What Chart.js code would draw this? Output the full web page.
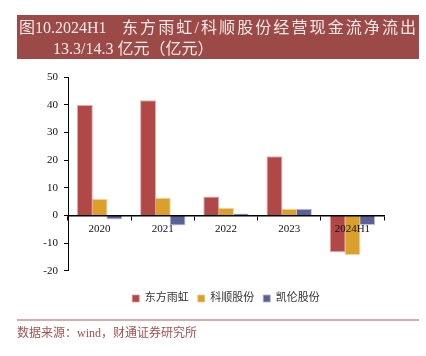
<!DOCTYPE html>
<html><head><meta charset="utf-8">
<script src="https://cdn.jsdelivr.net/npm/chart.js@4"></script>
<style>
html,body{margin:0;padding:0;background:#fff;width:426px;height:356px;overflow:hidden;}
#wrap{position:absolute;left:0;top:0;width:426px;height:356px;}
#title{position:absolute;left:17px;top:15px;width:402px;height:44px;background:#9C4A47;color:#F6E9E7;font-family:"Liberation Serif","Noto Sans CJK SC",serif;font-size:16px;}
#t1a{position:absolute;left:2px;top:2px;line-height:22px;white-space:nowrap;}
#t1b{position:absolute;left:105px;top:2px;line-height:22px;white-space:nowrap;letter-spacing:2.1px;}
#t2{position:absolute;left:36px;top:23px;line-height:22px;white-space:nowrap;}
#rule{position:absolute;left:17px;top:319px;width:402px;height:2px;background:#D9ABA9;}
#src{position:absolute;left:17px;top:325px;font-family:"Liberation Serif","Noto Sans CJK SC",serif;font-size:12px;color:#A5524F;white-space:nowrap;line-height:16px;}
canvas{position:absolute;left:0;top:0;}
</style></head>
<body>
<div id="wrap"><canvas id="c" width="426" height="356"></canvas></div>
<div id="title"><span id="t1a">图10.2024H1</span><span id="t1b">东方雨虹/科顺股份经营现金流净流出</span><span id="t2">13.3/14.3 亿元（亿元）</span></div>
<div id="rule"></div>
<div id="src">数据来源：wind，财通证券研究所</div>
<script>
const categories = ["2020", "2021", "2022", "2023", "2024H1"];
const seriesNames = ["东方雨虹", "科顺股份", "凯伦股份"];
const dongfang = [39.9, 41.6, 6.8, 21.4, -13.3];
const keshun = [5.9, 6.4, 2.8, 2.4, -14.3];
const kailun = [-1.5, -3.6, 0.7, 2.4, -3.5];
const yTicks = [-20, -10, 0, 10, 20, 30, 40, 50];

const font = {family: '"Liberation Serif","Noto Sans CJK SC",serif', size: 11};
const mk = (label, data, color, border) => ({
  label, data, backgroundColor: color, borderColor: border, borderWidth: 1,
  categoryPercentage: 0.7, barPercentage: 1.08
});
new Chart(document.getElementById('c'), {
  type: 'bar',
  data: {
    labels: categories,
    datasets: [
      mk(seriesNames[0], dongfang, '#B04848', 'rgba(220,150,150,0.8)'),
      mk(seriesNames[1], keshun, '#DBA02B', 'rgba(240,200,130,0.8)'),
      mk(seriesNames[2], kailun, '#5A6098', 'rgba(170,175,210,0.8)')
    ]
  },
  options: {
    responsive: false, animation: false,
    layout: {padding: {left: 0, right: 42, top: 77, bottom: 42}},
    plugins: {
      tooltip: {enabled: false},
      legend: {
        position: 'bottom', fullSize: false,
        title: {display: true, text: '', padding: {top: 12, bottom: 0}, font: {size: 1}},
        labels: {boxWidth: 7, boxHeight: 7, padding: 9, color: '#333', font: {family: font.family, size: 11}}
      }
    },
    scales: {
      x: {
        position: {y: 0},
        grid: {display: true, drawOnChartArea: false, drawTicks: true, tickLength: 4, color: '#000', offset: true, z: 1},
        border: {display: true, color: '#000', width: 1.5, z: 1},
        ticks: {color: '#111', font, padding: 3, maxRotation: 0, z: 2}
      },
      y: {
        min: -20, max: 50,
        afterFit: s => { s.width = 68; },
        afterBuildTicks: s => { s.ticks = yTicks.map(v => ({value: v})); },
        grid: {display: true, drawOnChartArea: false, drawTicks: true, tickLength: 4, color: '#000'},
        border: {display: true, color: '#000', width: 1},
        ticks: {color: '#111', font, padding: 6}
      }
    }
  }
});
</script>
</body></html>
